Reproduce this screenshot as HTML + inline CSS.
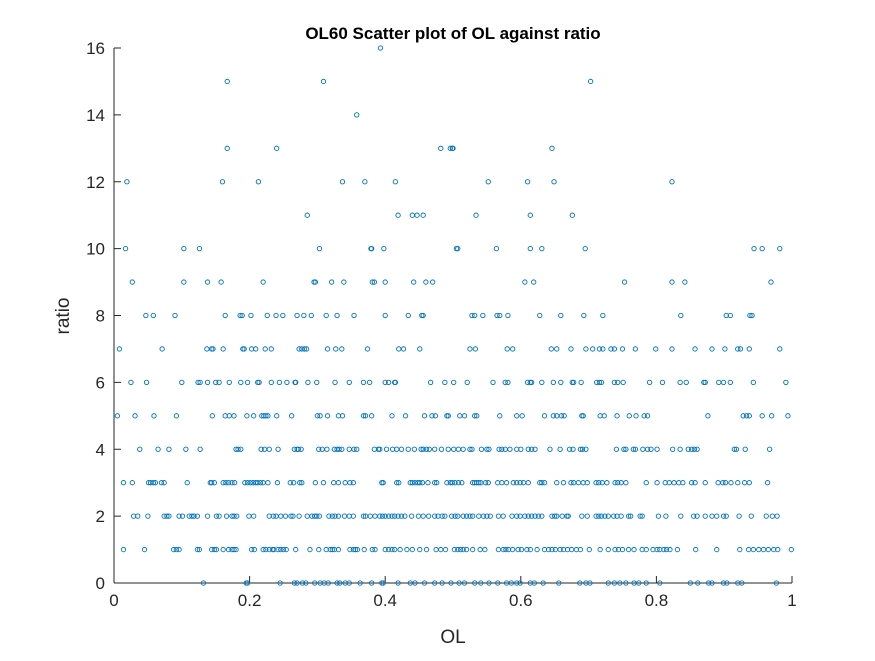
<!DOCTYPE html>
<html><head><meta charset="utf-8"><style>
body{margin:0;background:#fff;}
svg text{font-family:"Liberation Sans",Arial,sans-serif;}
</style></head><body>
<svg id="chart" width="875" height="656" xmlns="http://www.w3.org/2000/svg">
<rect x="0" y="0" width="875" height="656" fill="#fff"/>
<text x="453" y="39" text-anchor="middle" font-size="17" font-weight="bold" fill="#000">OL60 Scatter plot of OL against ratio</text>
<g id="axes"></g>
<g id="points"></g>
<text x="453" y="643" text-anchor="middle" font-size="19" fill="#262626">OL</text>
<text transform="translate(69,316) rotate(-90)" text-anchor="middle" font-size="19" fill="#262626">ratio</text>
</svg>
<script>
const xTicks=[0,0.2,0.4,0.6,0.8,1];
const xTickLabels=["0","0.2","0.4","0.6","0.8","1"];
const yTicks=[0,2,4,6,8,10,12,14,16];
const yTickLabels=["0","2","4","6","8","10","12","14","16"];
const ol16=[.393];
const ol15=[.167,.309,.703];
const ol14=[.358];
const ol13=[.167,.240,.482,.496,.499,.500,.646];
const ol12=[.019,.160,.213,.337,.370,.415,.552,.610,.649,.823];
const ol11=[.285,.419,.440,.447,.456,.534,.614,.676];
const ol10=[.017,.103,.126,.303,.379,.380,.398,.505,.507,.564,.614,.631,.695,.944,.956,.982];
const ol9=[.027,.103,.138,.158,.220,.295,.297,.321,.339,.381,.384,.400,.442,.460,.470,.606,.619,.753,.823,.842,.969];
const ol8=[.047,.058,.090,.164,.186,.189,.202,.226,.239,.249,.270,.280,.291,.313,.329,.354,.400,.434,.454,.456,.528,.532,.544,.565,.569,.581,.628,.659,.693,.721,.836,.903,.909,.938,.941];
const ol7=[.008,.071,.137,.144,.146,.161,.190,.192,.203,.209,.223,.232,.273,.277,.281,.284,.315,.327,.336,.374,.420,.427,.451,.525,.533,.580,.588,.645,.653,.674,.696,.706,.716,.721,.733,.738,.750,.769,.799,.823,.857,.882,.901,.920,.924,.937,.982];
const ol6=[.025,.048,.100,.124,.127,.138,.150,.155,.170,.187,.197,.212,.214,.232,.244,.255,.267,.268,.286,.299,.326,.347,.368,.377,.400,.405,.414,.415,.467,.488,.501,.521,.559,.577,.581,.610,.614,.616,.631,.648,.659,.676,.678,.689,.712,.716,.719,.738,.743,.751,.790,.809,.835,.844,.870,.872,.892,.899,.909,.943,.991];
const ol5=[.005,.031,.059,.092,.145,.164,.170,.177,.196,.206,.218,.221,.224,.227,.240,.262,.300,.304,.315,.331,.337,.368,.371,.380,.410,.430,.458,.469,.474,.491,.493,.510,.517,.532,.535,.569,.594,.602,.635,.648,.653,.660,.664,.690,.692,.717,.723,.742,.760,.770,.782,.787,.876,.928,.933,.937,.956,.970,.994];
const ol4=[.038,.065,.081,.106,.127,.180,.183,.187,.217,.222,.229,.242,.266,.270,.272,.276,.302,.307,.314,.325,.329,.332,.336,.347,.354,.358,.384,.390,.392,.402,.411,.417,.424,.434,.443,.453,.456,.461,.465,.473,.483,.493,.501,.508,.515,.525,.528,.542,.550,.553,.568,.572,.577,.584,.594,.600,.611,.616,.621,.643,.658,.672,.677,.688,.691,.696,.741,.752,.755,.766,.769,.780,.787,.792,.801,.824,.835,.847,.852,.856,.860,.915,.918,.931,.967];
const ol3=[.014,.027,.051,.054,.058,.061,.070,.074,.108,.142,.144,.148,.161,.165,.169,.174,.178,.193,.197,.201,.205,.209,.212,.216,.220,.227,.241,.260,.265,.274,.277,.297,.309,.324,.331,.341,.348,.353,.395,.397,.417,.420,.437,.440,.444,.448,.451,.455,.463,.473,.476,.491,.496,.499,.503,.508,.513,.529,.532,.535,.538,.541,.548,.552,.566,.572,.579,.589,.594,.599,.604,.611,.628,.631,.635,.653,.663,.674,.678,.685,.692,.698,.711,.715,.720,.727,.739,.743,.748,.755,.785,.801,.813,.819,.826,.833,.839,.852,.857,.872,.891,.898,.902,.910,.920,.930,.937,.964];
const ol2=[.029,.035,.050,.074,.078,.081,.096,.101,.111,.115,.118,.123,.138,.151,.155,.166,.174,.177,.181,.199,.206,.229,.235,.239,.246,.253,.261,.264,.273,.285,.292,.296,.299,.303,.317,.322,.326,.331,.340,.347,.353,.368,.371,.378,.385,.392,.396,.400,.405,.410,.414,.419,.424,.429,.439,.449,.456,.464,.473,.478,.484,.488,.498,.503,.507,.515,.520,.525,.529,.538,.545,.550,.555,.567,.574,.587,.594,.599,.606,.611,.616,.621,.626,.631,.646,.650,.653,.661,.668,.670,.690,.698,.711,.715,.719,.724,.729,.737,.742,.748,.759,.762,.776,.779,.803,.814,.836,.855,.860,.872,.882,.889,.899,.903,.922,.940,.962,.971,.978];
const ol1=[.014,.045,.088,.092,.096,.123,.126,.144,.148,.151,.161,.169,.174,.177,.180,.203,.207,.220,.224,.229,.234,.236,.242,.246,.250,.254,.268,.289,.302,.313,.319,.322,.325,.331,.348,.353,.356,.359,.369,.381,.385,.400,.405,.410,.414,.422,.432,.440,.451,.461,.475,.482,.489,.502,.507,.511,.515,.520,.529,.540,.547,.567,.574,.578,.582,.588,.596,.601,.609,.614,.624,.635,.641,.646,.651,.658,.663,.669,.675,.682,.688,.701,.717,.729,.739,.744,.750,.759,.767,.779,.785,.795,.801,.805,.811,.815,.820,.831,.858,.889,.923,.936,.943,.951,.958,.965,.973,.979,.999];
const ol0=[.132,.195,.197,.245,.266,.270,.278,.283,.296,.304,.310,.316,.329,.333,.341,.347,.363,.380,.395,.397,.419,.437,.444,.458,.473,.484,.497,.509,.517,.532,.541,.553,.566,.579,.586,.594,.599,.614,.620,.633,.656,.687,.696,.702,.729,.738,.746,.755,.767,.774,.785,.805,.850,.861,.877,.882,.899,.904,.920,.926,.977];
const ratioLevels=[0,1,2,3,4,5,6,7,8,9,10,11,12,13,14,15,16];
const olByLevel=[ol0,ol1,ol2,ol3,ol4,ol5,ol6,ol7,ol8,ol9,ol10,ol11,ol12,ol13,ol14,ol15,ol16];

const X0=114,X1=792,Y0=583,Y1=48;
const xs=v=>X0+(v-0)/(1-0)*(X1-X0);
const ys=v=>Y0-(v-0)/(16-0)*(Y0-Y1);
const NS="http://www.w3.org/2000/svg";
const axes=document.getElementById('axes');
function mk(tag,attrs,parent){const e=document.createElementNS(NS,tag);for(const k in attrs)e.setAttribute(k,attrs[k]);parent.appendChild(e);return e;}
const xl=mk('line',{x1:X0,y1:Y0,x2:X1,y2:Y0,stroke:'#262626','stroke-width':1},axes);


const yl=mk('line',{x1:X0,y1:Y0,x2:X0,y2:Y1,stroke:'#262626','stroke-width':1},axes);


xTicks.forEach((t,i)=>{
  const x=xs(t);
  const tk=mk('line',{x1:x,y1:Y0,x2:x,y2:Y0-7,stroke:'#262626','stroke-width':1},axes);
  
  
  const tx=mk('text',{x:x,y:Y0+23,'text-anchor':'middle','font-size':17,fill:'#262626'},axes);
  tx.textContent=xTickLabels[i];
  
  
});
yTicks.forEach((t,i)=>{
  const y=ys(t);
  const tk=mk('line',{x1:X0,y1:y,x2:X0+7,y2:y,stroke:'#262626','stroke-width':1},axes);
  
  
  const tx=mk('text',{x:X0-9,y:y+6,'text-anchor':'end','font-size':17,fill:'#262626'},axes);
  tx.textContent=yTickLabels[i];
  
  
});
const pts=document.getElementById('points');
ratioLevels.forEach((r,i)=>{
  olByLevel[i].forEach(v=>{
    const c=mk('circle',{cx:xs(v),cy:ys(r),r:2.2,fill:'none',stroke:'#0072BD','stroke-width':0.9},pts);
    
    
  });
});
</script>
</body></html>
